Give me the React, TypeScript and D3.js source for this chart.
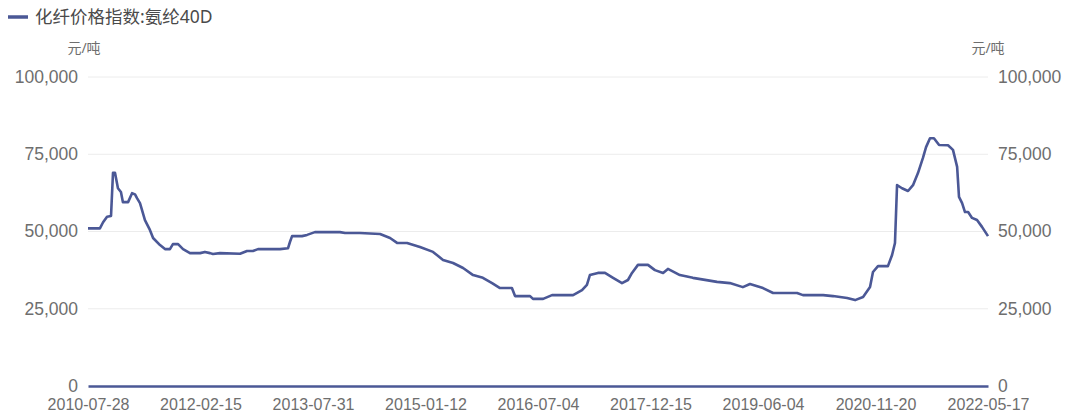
import * as React from "react"
import * as d3 from "d3"

const seriesName = "化纤价格指数:氨纶40D"
const unitLabel = "元/吨"

// x axis labels (category axis, shown every N points)
const xLabels = [
  "2010-07-28",
  "2012-02-15",
  "2013-07-31",
  "2015-01-12",
  "2016-07-04",
  "2017-12-15",
  "2019-06-04",
  "2020-11-20",
  "2022-05-17",
]

const yTicks = [0, 25000, 50000, 75000, 100000]

const dates = [
  "2010-07-28", "2010-09-26", "2010-10-12", "2010-11-01", "2010-11-21",
  "2010-12-01", "2010-12-11", "2010-12-26", "2011-01-10", "2011-01-20",
  "2011-02-15", "2011-03-07", "2011-03-22", "2011-04-01", "2011-04-16",
  "2011-04-26", "2011-05-11", "2011-06-05", "2011-06-21", "2011-07-26",
  "2011-08-20", "2011-09-14", "2011-09-29", "2011-10-25", "2011-11-19",
  "2011-12-24", "2012-02-13", "2012-03-07", "2012-03-31", "2012-04-14",
  "2012-05-17", "2012-08-20", "2012-09-22", "2012-10-20", "2012-11-13",
  "2013-02-25", "2013-04-04", "2013-04-13", "2013-04-23", "2013-06-09",
  "2013-07-03", "2013-08-09", "2013-09-02", "2013-12-05", "2013-12-29",
  "2014-03-09", "2014-06-12", "2014-07-29", "2014-08-31", "2014-10-17",
  "2014-12-17", "2015-02-17", "2015-04-06", "2015-05-24", "2015-07-11",
  "2015-08-28", "2015-10-14", "2015-11-27", "2016-01-04", "2016-03-01",
  "2016-03-16", "2016-05-27", "2016-06-10", "2016-07-28", "2016-09-08",
  "2016-12-16", "2017-01-27", "2017-02-19", "2017-03-05", "2017-04-12",
  "2017-05-15", "2017-06-22", "2017-08-03", "2017-08-31", "2017-09-19",
  "2017-10-17", "2017-12-03", "2018-01-05", "2018-02-13", "2018-03-08",
  "2018-05-04", "2018-07-05", "2018-10-28", "2018-12-28", "2019-02-28",
  "2019-04-03", "2019-06-04", "2019-07-22", "2019-11-13", "2019-12-11",
  "2020-03-16", "2020-05-02", "2020-07-08", "2020-08-15", "2020-09-22",
  "2020-10-25", "2020-11-08", "2020-12-02", "2021-01-19", "2021-02-08",
  "2021-02-22", "2021-03-04", "2021-03-28", "2021-04-26", "2021-05-20",
  "2021-06-13", "2021-07-07", "2021-07-22", "2021-08-10", "2021-08-29",
  "2021-09-23", "2021-11-05", "2021-11-29", "2021-12-19", "2021-12-28",
  "2022-01-12", "2022-01-26", "2022-02-10", "2022-03-01", "2022-03-25",
  "2022-04-18", "2022-05-17",
]

const values = [
  51000, 51000, 53000, 54800, 55000,
  69000, 69000, 64000, 62800, 59500,
  59500, 62400, 62000, 60800, 59200,
  57000, 53700, 50500, 47900, 45600,
  44300, 44300, 45900, 45900, 44300,
  43000, 43000, 43400, 43000, 42700,
  43000, 42800, 43700, 43700, 44300,
  44300, 44600, 46600, 48500, 48500,
  48900, 49800, 49800, 49800, 49500,
  49500, 49200, 47900, 46300, 46300,
  45000, 43400, 40800, 39800, 38200,
  35900, 35000, 33300, 31700, 31700,
  29100, 29100, 28200, 28200, 29400,
  29400, 31000, 32700, 35900, 36600,
  36600, 35000, 33300, 34300, 36600,
  39200, 39200, 37500, 36600, 37900,
  35900, 35000, 33700, 33300, 32000,
  33000, 31700, 30100, 30100, 29400,
  29400, 29100, 28500, 27800, 28800,
  32000, 36900, 38800, 38800, 42400,
  46300, 65000, 64000, 63100, 65000,
  68900, 73800, 77300, 80200, 80200,
  78000, 77900, 76400, 70900, 61200,
  59200, 56300, 56300, 54400, 53700,
  51500, 48500,
]

const WIDTH = 1080
const HEIGHT = 414
const LINE = "#4b5896"
const TEXT = "#6e6e6e"
const FONT = "'Noto Sans', 'Noto Sans CJK SC', sans-serif"
const TICK_FONT = "'Liberation Sans', Arial, sans-serif"

function render(svgRef: React.RefObject<SVGSVGElement>) {
  const margin = { top: 77, right: 92, bottom: 28, left: 88 }
  const x0 = margin.left
  const x1 = WIDTH - margin.right
  const yBottom = HEIGHT - margin.bottom

  const parse = d3.timeParse("%Y-%m-%d")
  const labelDates = xLabels.map((d) => parse(d) as Date)

  // category-like axis: each labelled date sits at an even step
  const step = (x1 - x0) / (xLabels.length - 1)
  const xScale = d3
    .scaleTime()
    .domain(labelDates)
    .range(labelDates.map((_d, i) => x0 + i * step))

  const yScale = d3.scaleLinear().domain([0, 100000]).range([yBottom, margin.top])

  const svg = d3.select(svgRef.current)
  svg.selectAll("*").remove()

  // legend
  svg
    .append("line")
    .attr("x1", 8)
    .attr("x2", 28)
    .attr("y1", 17)
    .attr("y2", 17)
    .attr("stroke", LINE)
    .attr("stroke-width", 3.5)
  svg
    .append("text")
    .attr("x", 35)
    .attr("y", 23)
    .attr("font-size", "17.5px")
    .attr("fill", "#4a4a4a")
    .text(seriesName)

  // unit labels
  svg
    .append("text")
    .attr("x", 84)
    .attr("y", 53)
    .attr("text-anchor", "middle")
    .attr("font-size", "14px")
    .attr("fill", TEXT)
    .text(unitLabel)
  svg
    .append("text")
    .attr("x", 988)
    .attr("y", 53)
    .attr("text-anchor", "middle")
    .attr("font-size", "14px")
    .attr("fill", TEXT)
    .text(unitLabel)

  const fmt = d3.format(",")

  // grid lines
  svg
    .append("g")
    .selectAll("line")
    .data(yTicks.filter((d) => d > 0))
    .join("line")
    .attr("x1", x0)
    .attr("x2", x1)
    .attr("y1", (d) => yScale(d))
    .attr("y2", (d) => yScale(d))
    .attr("stroke", "#ececec")
    .attr("stroke-width", 1)

  // left axis
  const left = svg
    .append("g")
    .attr("transform", `translate(${x0},0)`)
    .call(d3.axisLeft(yScale).tickValues(yTicks).tickFormat((d) => fmt(d as number)).tickSize(0).tickPadding(10))
  left.select(".domain").remove()
  left
    .selectAll(".tick text")
    .attr("font-size", "17.5px")
    .attr("fill", TEXT)
    .attr("font-family", TICK_FONT)
    .attr("dy", "0.3em")

  // right axis
  const right = svg
    .append("g")
    .attr("transform", `translate(${x1},0)`)
    .call(d3.axisRight(yScale).tickValues(yTicks).tickFormat((d) => fmt(d as number)).tickSize(0).tickPadding(10))
  right.select(".domain").remove()
  right
    .selectAll(".tick text")
    .attr("font-size", "17.5px")
    .attr("fill", TEXT)
    .attr("font-family", TICK_FONT)
    .attr("dy", "0.3em")

  // bottom axis
  const bottom = svg
    .append("g")
    .attr("transform", `translate(0,${yBottom})`)
    .call(d3.axisBottom(xScale).tickValues(labelDates).tickFormat((d) => d3.timeFormat("%Y-%m-%d")(d as Date)).tickSize(0).tickPadding(13))
  bottom.select(".domain").attr("stroke", LINE).attr("stroke-width", 2.5)
  bottom.selectAll(".tick text").attr("font-size", "16px").attr("fill", TEXT).attr("font-family", TICK_FONT)

  // series
  const points = dates.map((d, i) => ({ date: parse(d) as Date, value: values[i] }))
  const line = d3
    .line<{ date: Date; value: number }>()
    .x((d) => xScale(d.date))
    .y((d) => yScale(d.value))

  svg
    .append("path")
    .datum(points)
    .attr("d", line)
    .attr("fill", "none")
    .attr("stroke", LINE)
    .attr("stroke-width", 2.6)
    .attr("stroke-linejoin", "round")
}

export default function App(): React.JSX.Element {
  const svg = React.useRef<SVGSVGElement>(null)

  React.useEffect(() => {
    render(svg)
  }, [])

  return (
    <svg
      ref={svg}
      width={WIDTH}
      height={HEIGHT}
      style={{ position: "absolute", left: 0, top: 0, background: "#fff", fontFamily: FONT }}
    />
  )
}
